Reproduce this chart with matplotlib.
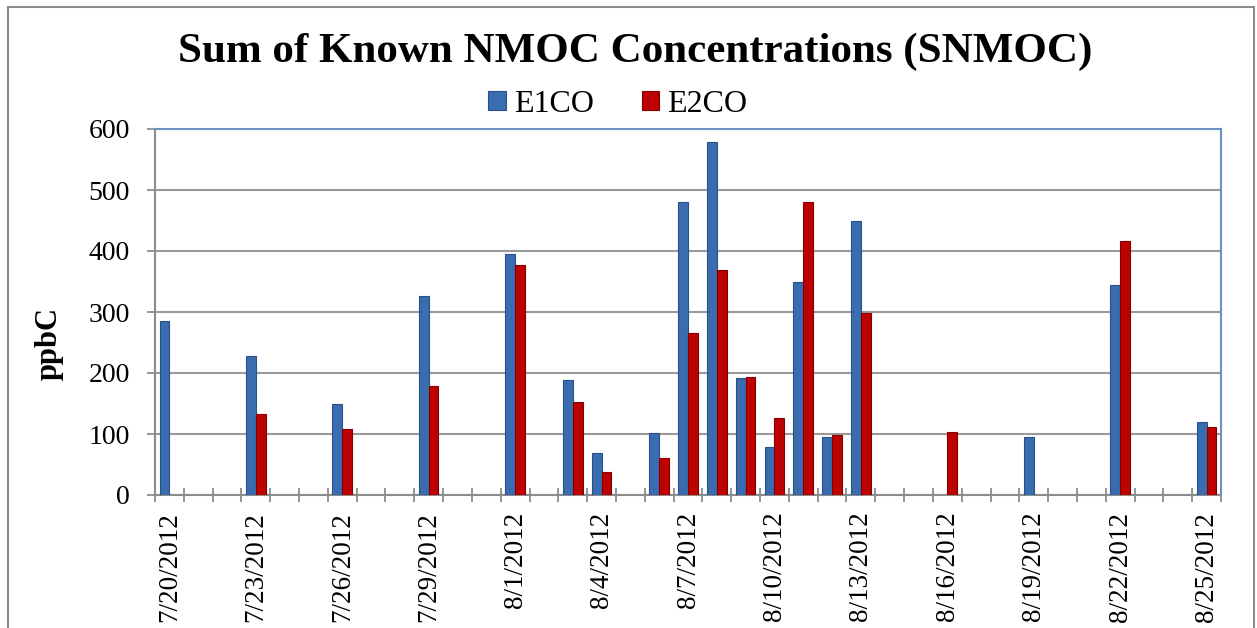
import numpy as np
import matplotlib
matplotlib.use('Agg')
import matplotlib.pyplot as plt
from matplotlib.patches import Rectangle

# Daily categories from 7/20/2012 to 8/25/2012
dates = ['7/20/2012', '7/21/2012', '7/22/2012', '7/23/2012', '7/24/2012', '7/25/2012',
         '7/26/2012', '7/27/2012', '7/28/2012', '7/29/2012', '7/30/2012', '7/31/2012',
         '8/1/2012', '8/2/2012', '8/3/2012', '8/4/2012', '8/5/2012', '8/6/2012',
         '8/7/2012', '8/8/2012', '8/9/2012', '8/10/2012', '8/11/2012', '8/12/2012',
         '8/13/2012', '8/14/2012', '8/15/2012', '8/16/2012', '8/17/2012', '8/18/2012',
         '8/19/2012', '8/20/2012', '8/21/2012', '8/22/2012', '8/23/2012', '8/24/2012',
         '8/25/2012']

# SNMOC values (ppbC), None = no sample
e1co = [285, None, None, 228, None, None, 149, None, None, 327, None, None,
        395, None, 188, 69, None, 101, 481, 578, 191, 78, 350, 95,
        449, None, None, None, None, None, 95, None, None, 345, None, None, 120]
e2co = [None, None, None, 133, None, None, 109, None, None, 179, None, None,
        377, None, 152, 38, None, 60, 265, 369, 193, 127, 481, 99,
        299, None, None, 103, None, None, None, None, None, 417, None, None, 112]

labeled = dates[::3]

plt.rcParams['font.family'] = ['Liberation Serif', 'DejaVu Serif']

fig = plt.figure(figsize=(12.57, 6.28), dpi=100)
ax = fig.add_axes([155 / 1257, 1 - 495 / 628, 1066 / 1257, 366 / 628])

x = np.arange(len(dates))
w = 0.34
y1 = np.array([np.nan if v is None else v for v in e1co], dtype=float)
y2 = np.array([np.nan if v is None else v for v in e2co], dtype=float)

ax.bar(x - w / 2, y1, width=w, color='#3a6db0', edgecolor='#2a5088', linewidth=0.8,
       label='E1CO', zorder=3)
ax.bar(x + w / 2, y2, width=w, color='#bd0000', edgecolor='#870000', linewidth=0.8,
       label='E2CO', zorder=3)

ax.set_xlim(-0.5, len(dates) - 0.5)
ax.set_ylim(0, 600)
ax.set_yticks(range(0, 601, 100))
ax.yaxis.grid(True, color='#9a9a9a', linewidth=1.5, zorder=0)

# labels at category centres, tick marks at category boundaries
ax.set_xticks(x[::3])
ax.set_xticklabels(labeled, rotation=90, fontsize=19.5)
ax.set_xticks(np.arange(-0.5, len(dates)), minor=True)
ax.tick_params(axis='x', which='major', length=0, pad=12)
ax.tick_params(axis='x', which='minor', direction='inout', length=10, width=1.3, color='#8c8c8c')
ax.tick_params(axis='y', direction='out', length=6, width=1.3, color='#8c8c8c',
               labelsize=20, pad=12)

for side in ['left', 'bottom']:
    ax.spines[side].set_color('#8c8c8c')
    ax.spines[side].set_linewidth(1.5)
for side in ['top', 'right']:
    ax.spines[side].set_color('#6b90c4')
    ax.spines[side].set_linewidth(1.5)

ax.set_ylabel('ppbC', fontsize=22, fontweight='bold')
ax.yaxis.set_label_coords(-0.0854, 0.415)

fig.text(0.505, 1 - 52 / 628, 'Sum of Known NMOC Concentrations (SNMOC)',
         ha='center', va='center', fontsize=31, fontweight='bold')

fig.legend(loc='center', bbox_to_anchor=(618 / 1257, 1 - 104 / 628), ncol=2,
           frameon=False, fontsize=23, handlelength=0.55, handleheight=0.55,
           handletextpad=0.25, columnspacing=1.5, borderaxespad=0)

# outer chart border
fig.patches.append(Rectangle((8 / 1257, -0.05), 1246 / 1257, 1.05 - 7 / 628,
                             transform=fig.transFigure, fill=False,
                             edgecolor='#8c8c8c', linewidth=1.5))

plt.savefig('out.png', dpi=100)
